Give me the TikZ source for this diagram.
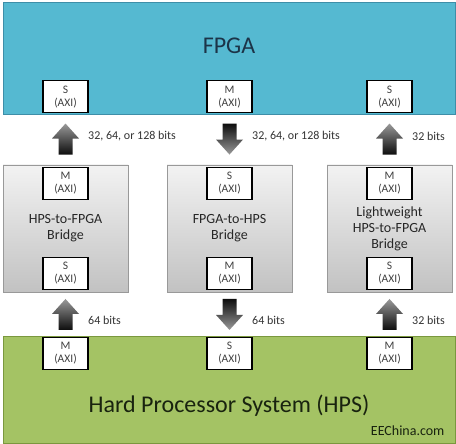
\documentclass[tikz,border=0pt]{standalone}
\usepackage{fontspec}
\setmainfont{Carlito}
\usetikzlibrary{calc,shadows}

\definecolor{fpgablue}{RGB}{85,185,209}
\definecolor{fpgaline}{RGB}{62,142,168}
\definecolor{fpgatext}{RGB}{28,52,72}
\definecolor{hpsgreen}{RGB}{164,195,100}
\definecolor{hpsline}{RGB}{122,152,62}
\definecolor{hpstext}{RGB}{25,35,15}

% block arrow between two boxes, centred in the gap
\newcommand{\busarrow}[4]{%
	\coordinate (#4) at ($(#2)!.5!(#3)$);
	\coordinate (#4-tail) at ($(#4)!15.5pt!(#2)$);
	\coordinate (#4-tip) at ($(#4)!15.5pt!(#3)$);
	\coordinate (#4-head) at ($(#4-tip)!15pt!(#4)$);
	\shade[#1] ($(#4-tail)!7pt!90:(#4-tip)$) -- ($(#4-head)!7pt!90:(#4-tip)$)
		-- ($(#4-head)!13.5pt!90:(#4-tip)$) -- (#4-tip)
		-- ($(#4-head)!13.5pt!-90:(#4-tip)$) -- ($(#4-head)!7pt!-90:(#4-tip)$)
		-- ($(#4-tail)!7pt!-90:(#4-tip)$) -- cycle;
}

\tikzset{
	region/.style={draw=#1, line width=0.8pt, minimum width=452pt, inner sep=0pt},
	port/.style={draw=black, line width=1.5pt, fill=white, minimum width=45pt, minimum height=32pt,
		inner sep=0pt, align=center, font=\fontsize{11.5}{13}\selectfont, text=black!75},
	bridge/.style={draw=black!40, line width=0.6pt, top color=black!5, bottom color=black!24,
		minimum width=125pt, minimum height=127pt, align=center, text=black!85,
		font=\fontsize{14}{16}\selectfont,
		drop shadow={shadow xshift=1.2pt, shadow yshift=-1.2pt, opacity=.35}},
	bits/.style={anchor=west, inner sep=0pt, font=\fontsize{12}{14}\selectfont, text=black!80},
	uparrow/.style={top color=black!40, bottom color=black!95},
	downarrow/.style={top color=black!95, bottom color=black!40},
}

\begin{document}
\begin{tikzpicture}[x=1pt,y=-1pt]
	\useasboundingbox (0,0) rectangle (456,444);

	% FPGA and HPS
	\node[region=fpgaline, fill=fpgablue, minimum height=112pt] (fpga) at (229,58) {};
	\node[text=fpgatext, font=\fontsize{24}{28}\selectfont] (fpgatitle) at (229,46) {FPGA};
	\node[region=hpsline, fill=hpsgreen, minimum height=107pt] (hps) at (229,389.5) {};
	\node[text=hpstext, font=\fontsize{24}{28}\selectfont] (hpstitle) at (229,406) {Hard Processor System (HPS)};
	\node[anchor=base east, text=hpstext, font=\fontsize{14}{16}\selectfont] (site) at (448,435) {EEChina.com};

	% bridges
	\node[bridge] (h2f) at (65.5,228.5) {HPS-to-FPGA\\Bridge};
	\node[bridge] (f2h) at (229.5,228.5) {FPGA-to-HPS\\Bridge};
	\node[bridge] (lwh2f) at (389.5,228.5) {Lightweight\\HPS-to-FPGA\\Bridge};

	% AXI ports
	\node[port, anchor=south] (fpgas1) at ($(fpga.south)+(-163.5,-1)$) {S\\(AXI)};
	\node[port, anchor=south] (fpgam) at ($(fpga.south)+(0.5,-1)$) {M\\(AXI)};
	\node[port, anchor=south] (fpgas2) at ($(fpga.south)+(160.5,-1)$) {S\\(AXI)};

	\node[port, anchor=north] (h2fm) at ($(h2f.north)+(0,2)$) {M\\(AXI)};
	\node[port, anchor=south] (h2fs) at ($(h2f.south)+(0,-2)$) {S\\(AXI)};
	\node[port, anchor=north] (f2hs) at ($(f2h.north)+(0,2)$) {S\\(AXI)};
	\node[port, anchor=south] (f2hm) at ($(f2h.south)+(0,-2)$) {M\\(AXI)};
	\node[port, anchor=north] (lwh2fm) at ($(lwh2f.north)+(0,2)$) {M\\(AXI)};
	\node[port, anchor=south] (lwh2fs) at ($(lwh2f.south)+(0,-2)$) {S\\(AXI)};

	\node[port, anchor=north] (hpsm1) at ($(hps.north)+(-163.5,1)$) {M\\(AXI)};
	\node[port, anchor=north] (hpss) at ($(hps.north)+(0.5,1)$) {S\\(AXI)};
	\node[port, anchor=north] (hpsm2) at ($(hps.north)+(160.5,1)$) {M\\(AXI)};

	% data paths
	\busarrow{uparrow}{h2f.north}{fpgas1.south}{a1}
	\busarrow{downarrow}{fpgam.south}{f2h.north}{a2}
	\busarrow{uparrow}{lwh2f.north}{fpgas2.south}{a3}
	\busarrow{uparrow}{hpsm1.north}{h2f.south}{a4}
	\busarrow{downarrow}{f2h.south}{hpss.north}{a5}
	\busarrow{uparrow}{hpsm2.north}{lwh2f.south}{a6}

	\node[bits] (w1) at ($(a1)+(22.5,-2.5)$) {32, 64, or 128 bits};
	\node[bits] (w2) at ($(a2)+(22.5,-2.5)$) {32, 64, or 128 bits};
	\node[bits] (w3) at ($(a3)+(22.5,-2.5)$) {32 bits};
	\node[bits] (w4) at ($(a4)+(22.5,6)$) {64 bits};
	\node[bits] (w5) at ($(a5)+(22.5,6)$) {64 bits};
	\node[bits] (w6) at ($(a6)+(22.5,6)$) {32 bits};
\end{tikzpicture}
\end{document}
